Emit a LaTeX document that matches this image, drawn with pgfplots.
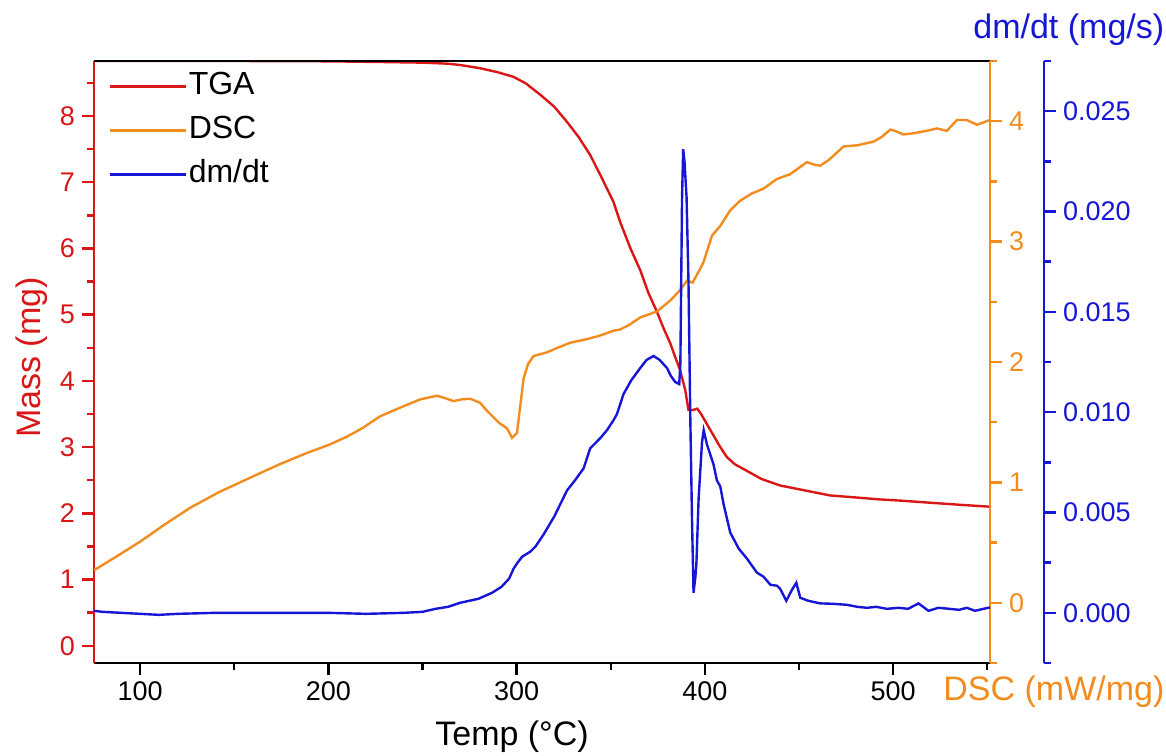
\documentclass[border=0pt]{standalone}
\usepackage{pgfplots}
\pgfplotsset{compat=1.18}
\usepackage{pgfplotstable}
\usepackage{fontspec}
\setmainfont{Liberation Sans}
\definecolor{tgared}{RGB}{218,22,22}
\definecolor{dscorange}{RGB}{242,140,30}
\definecolor{dmblue}{RGB}{22,22,215}

\pgfplotstableread{
T m
75.5 8.83
100 8.83
150 8.83
200 8.825
227.6 8.815
250 8.805
263 8.79
270 8.77
280.7 8.72
290 8.66
298.4 8.59
305 8.49
312.6 8.32
320 8.14
326.8 7.91
333 7.68
339.1 7.41
345 7.08
351.5 6.70
355 6.40
360.5 6.00
365.7 5.67
370 5.33
374.6 5.04
378 4.80
381.6 4.57
384 4.38
386.9 4.16
389.6 3.86
391.3 3.56
393.5 3.56
396 3.58
398 3.50
402.9 3.26
408.2 3.00
411.7 2.85
416 2.74
422.4 2.64
430 2.52
440 2.42
450.7 2.36
466.5 2.27
480 2.24
493 2.21
505 2.19
519.7 2.16
535 2.13
551.5 2.10
}\tgadata

\pgfplotstableread{
T d
75.5 0.27
88 0.39
100.2 0.51
113 0.65
126.7 0.79
142 0.92
158.6 1.04
174 1.15
188.7 1.245
200 1.31
209.9 1.38
218 1.45
227.6 1.55
238 1.62
248.9 1.69
257.7 1.72
262 1.70
266.5 1.675
271 1.69
275.4 1.695
280.7 1.66
284 1.60
287.8 1.54
291 1.49
294.9 1.45
297.6 1.37
300.2 1.41
303.7 1.86
306 1.98
309 2.05
316.1 2.08
322 2.12
328.5 2.16
337.4 2.19
344.4 2.22
351.5 2.26
355 2.27
360 2.31
365.7 2.37
374.6 2.42
381.6 2.51
387 2.60
390.5 2.675
393.5 2.66
397.4 2.77
399.3 2.83
403.8 3.05
408.2 3.13
413.5 3.26
418.8 3.34
425 3.40
431.2 3.44
438.3 3.52
445.3 3.56
450.7 3.62
454.2 3.66
458 3.64
461.3 3.63
466 3.68
473.7 3.79
481 3.80
489.6 3.83
494 3.87
498.5 3.93
501 3.92
505.5 3.89
511 3.90
517.9 3.92
523.3 3.94
528.6 3.92
533.9 4.01
539.2 4.01
544.5 3.97
551.5 4.01
}\dscdata

\pgfplotstableread{
T r
75.5 0.0001
80 0.00005
90 0.0
100 -0.00005
110 -0.0001
120 -0.00005
140 0.0
160 0.0
180 0.0
200 0.0
220 -0.00005
240 0.0
250 0.00005
257 0.0002
263.6 0.0003
270 0.0005
279.7 0.0007
287 0.001
292 0.0013
296 0.0017
298.4 0.0022
300.5 0.0025
303 0.0028
307.3 0.00305
310 0.0033
314.3 0.0039
320 0.0048
326.8 0.0061
331 0.0066
335.6 0.0072
339.1 0.0082
344.4 0.0087
348 0.0091
351.5 0.0096
353.3 0.0099
356.8 0.0109
361 0.0116
365.7 0.0122
369 0.0126
372.8 0.0128
376 0.0126
379.9 0.0122
382 0.0118
384.3 0.0115
386.4 0.0114
387 0.0124
387.5 0.0170
387.9 0.0207
388.5 0.0231
389.2 0.0225
390.3 0.0207
391.3 0.0166
392.3 0.0096
393.2 0.0046
394.0 0.0010
395.0 0.0018
395.5 0.0024
396.7 0.0057
398.5 0.0085
399.4 0.0091
401.1 0.0084
404.6 0.0074
406.4 0.0066
408.2 0.0063
410 0.0054
413.5 0.0040
418 0.0032
422.4 0.0027
427.7 0.0020
431.2 0.0018
434.8 0.0014
438.3 0.00135
440 0.0012
443.3 0.0006
446 0.0011
448.6 0.0015
450.7 0.00075
455 0.0006
461.3 0.00047
468 0.00045
475.5 0.0004
481 0.0003
486.1 0.00025
491 0.0003
496.7 0.0002
503 0.00025
508 0.0002
513.5 0.00047
516 0.0003
518.8 0.0001
524 0.00025
530 0.0002
535 0.00015
539.2 0.00025
543.6 0.0001
548 0.0002
551.5 0.00027
}\dmdata

\pgfplotsset{
  base/.style={
    scale only axis, width=448pt, height=301pt,
    at={(0pt,0pt)}, anchor=south west,
    xmin=75.5, xmax=551.5,
    tick align=outside, major tick length=6pt, minor tick length=3.4pt,
    /pgf/number format/assume math mode=true,
    tick label style={font=\fontsize{13.5}{16}\selectfont},
    axis line style={line width=1.2pt},
    every tick/.style={line width=1.2pt},
  }
}

\begin{document}
\begin{tikzpicture}
\useasboundingbox (-47pt,-46pt) rectangle (536pt,331.5pt);

% main TGA axis
\begin{axis}[base,
  axis x line*=bottom, axis y line*=left,
  ymin=-0.26, ymax=8.83,
  xtick={100,200,300,400,500}, minor xtick={150,250,350,450,550},
  ytick={0,1,2,3,4,5,6,7,8}, minor ytick={0.5,1.5,2.5,3.5,4.5,5.5,6.5,7.5,8.5},
  y axis line style={tgared}, y tick style={tgared}, yticklabel style={text=tgared},
  x axis line style={black}, x tick style={black},
  legend style={draw=none, fill=none, at={(0,1)}, anchor=north west,
    xshift=4pt, yshift=-2pt, font=\fontsize{16}{19}\selectfont,
    row sep=5pt, nodes={inner sep=1pt, text height=11.5pt, text depth=3.5pt}},
  legend cell align=left,
  legend image code/.code={\draw[#1, line width=1.2pt] (0pt,0pt) -- (38pt,0pt);},
]
\addplot[tgared, line width=1.2pt] table[x=T, y=m] {\tgadata};
\addlegendentry{TGA}
\addlegendimage{dscorange}
\addlegendentry{DSC}
\addlegendimage{dmblue}
\addlegendentry{dm/dt}
\draw[black, line width=1.2pt] (rel axis cs:0,1) -- (rel axis cs:1,1);
\end{axis}

% DSC axis
\begin{axis}[base,
  axis x line=none, axis y line*=right,
  ymin=-0.5, ymax=4.5,
  ytick={0,1,2,3,4}, minor ytick={-0.5,0.5,1.5,2.5,3.5,4.5},
  y axis line style={dscorange}, y tick style={dscorange}, yticklabel style={text=dscorange},
]
\addplot[dscorange, line width=1.2pt] table[x=T, y=d] {\dscdata};
\end{axis}

% dm/dt data
\begin{axis}[base, hide axis, ymin=-0.0025, ymax=0.0275]
\addplot[dmblue, line width=1.2pt] table[x=T, y=r] {\dmdata};
\end{axis}

% dm/dt offset axis
\begin{axis}[base, at={(27pt,0pt)},
  axis x line=none, axis y line*=right,
  ymin=-0.0025, ymax=0.0275,
  ytick={0,0.005,0.01,0.015,0.02,0.025},
  minor ytick={-0.0025,0.0025,0.0075,0.0125,0.0175,0.0225,0.0275},
  scaled y ticks=false,
  yticklabel style={text=dmblue, /pgf/number format/.cd, fixed, fixed zerofill, precision=3},
  y axis line style={dmblue}, y tick style={dmblue},
]
\addplot[draw=none] coordinates {(100,0)};
\end{axis}

\node[tgared, rotate=90, anchor=base, inner sep=0pt, font=\fontsize{17}{20}\selectfont] at (-26.6pt,152.75pt) {Mass (mg)};
\node[black, anchor=base, inner sep=0pt, font=\fontsize{17}{20}\selectfont] at (209pt,-41pt) {Temp (°C)};
\node[dscorange, anchor=base west, inner sep=0pt, font=\fontsize{17}{20}\selectfont] at (424.5pt,-18.5pt) {DSC (mW/mg)};
\node[dmblue, anchor=base west, inner sep=0pt, font=\fontsize{17}{20}\selectfont] at (439.5pt,312pt) {dm/dt (mg/s)};
\end{tikzpicture}
\end{document}
